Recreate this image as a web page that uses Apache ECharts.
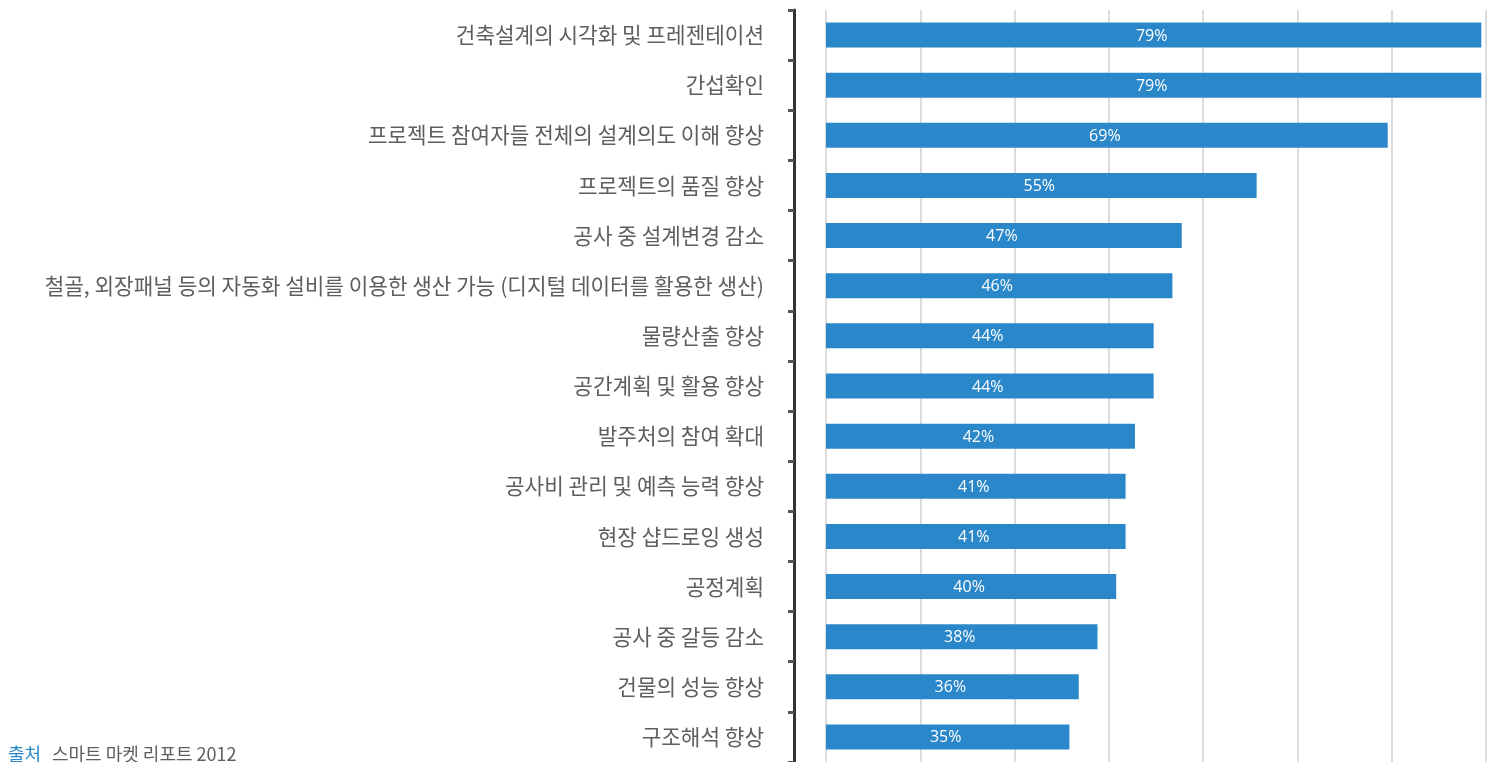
<!DOCTYPE html>
<html>
<head>
<meta charset="utf-8">
<script src="https://cdn.jsdelivr.net/npm/echarts@6/dist/echarts.min.js"></script>
<style>
  html, body { margin: 0; padding: 0; background: #fff; }
  #chart { width: 1495px; height: 762px; }
</style>
</head>
<body>
<div id="chart"></div>
<script>
const categories = [
  '건축설계의 시각화 및 프레젠테이션',
  '간섭확인',
  '프로젝트 참여자들 전체의 설계의도 이해 향상',
  '프로젝트의 품질 향상',
  '공사 중 설계변경 감소',
  '철골, 외장패널 등의 자동화 설비를 이용한 생산 가능 (디지털 데이터를 활용한 생산)',
  '물량산출 향상',
  '공간계획 및 활용 향상',
  '발주처의 참여 확대',
  '공사비 관리 및 예측 능력 향상',
  '현장 샵드로잉 생성',
  '공정계획',
  '공사 중 갈등 감소',
  '건물의 성능 향상',
  '구조해석 향상'
];
const values = [79, 79, 69, 55, 47, 46, 44, 44, 42, 41, 41, 40, 38, 36, 35];
const sourceLabel = '출처';
const sourceText = '스마트 마켓 리포트 2012';

const chart = echarts.init(document.getElementById('chart'));

const axisMin = 9;
const axisMax = 79.5;

const option = {
  animation: false,
  grid: {
    left: 826,
    right: 9,
    top: 10,
    bottom: -5,
    containLabel: false
  },
  xAxis: {
    type: 'value',
    min: axisMin,
    max: axisMax,
    interval: (axisMax - axisMin) / 7,
    axisLabel: { show: false },
    axisLine: { show: false },
    axisTick: { show: false },
    splitLine: {
      show: true,
      lineStyle: { color: '#dcdcdc', width: 2 }
    }
  },
  yAxis: {
    type: 'category',
    data: categories,
    inverse: true,
    offset: 32,
    axisLine: {
      show: true,
      lineStyle: { color: '#333', width: 3 }
    },
    axisTick: {
      show: true,
      length: 6,
      lineStyle: { color: '#555', width: 3 }
    },
    axisLabel: {
      margin: 30,
      color: '#5e5e5e',
      fontSize: 21.3,
      fontFamily: 'Noto Sans CJK KR'
    }
  },
  series: [{
    type: 'bar',
    data: values,
    barWidth: 25,
    itemStyle: { color: '#2a87c9' },
    label: {
      show: true,
      position: 'inside',
      formatter: '{c}%',
      color: '#fff',
      fontSize: 16,
      fontFamily: 'Open Sans',
      offset: [-2, 1]
    }
  }],
  graphic: [{
    type: 'text',
    left: 8,
    top: 745,
    style: {
      text: sourceLabel,
      fill: '#2a87c9',
      fontSize: 18,
      fontFamily: 'Noto Sans CJK KR'
    }
  }, {
    type: 'text',
    left: 52,
    top: 745,
    style: {
      text: sourceText,
      fill: '#5e5e5e',
      fontSize: 18,
      fontFamily: 'Noto Sans CJK KR'
    }
  }]
};

chart.setOption(option);
window.addEventListener('resize', () => chart.resize());
</script>
</body>
</html>
